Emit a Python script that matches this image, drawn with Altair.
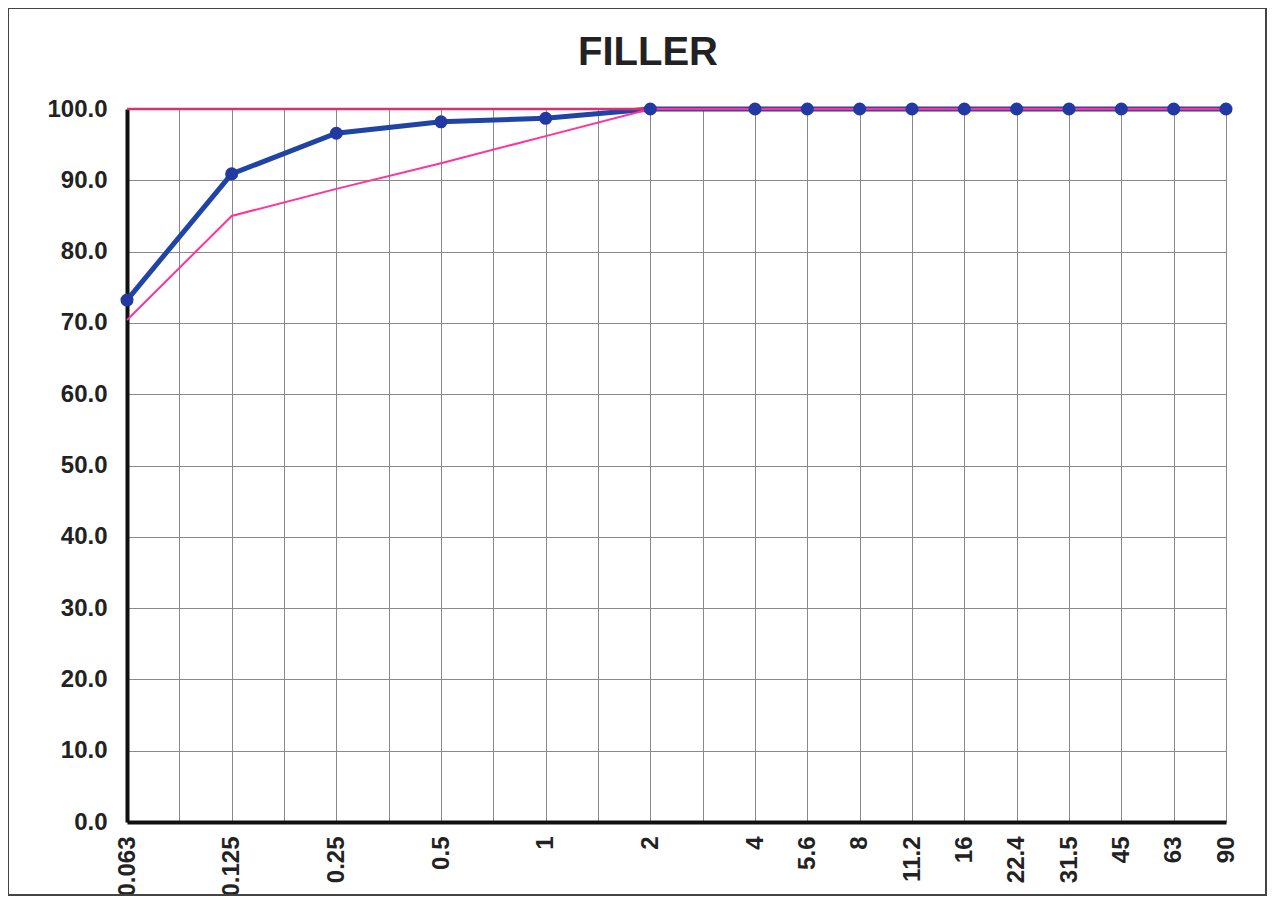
import altair as alt
import pandas as pd

# x axis slots (blank slots are unlabeled grid positions)
slots = ["0.063", " ", "0.125", "  ", "0.25", "   ", "0.5", "    ", "1", "     ",
         "2", "      ", "4", "5.6", "8", "11.2", "16", "22.4", "31.5", "45", "63", "90"]

sieve = ["0.063", "0.125", "0.25", "0.5", "1", "2", "4", "5.6", "8", "11.2",
         "16", "22.4", "31.5", "45", "63", "90"]
passing = [73.2, 90.9, 96.6, 98.2, 98.7, 100, 100, 100, 100, 100, 100, 100, 100, 100, 100, 100]
lower = [70.4, 85.0, 88.8, 92.4, 96.2, 100, 100, 100, 100, 100, 100, 100, 100, 100, 100, 100]
upper = [100, 100, 100, 100, 100, 100, 100, 100, 100, 100, 100, 100, 100, 100, 100, 100]

y_ticks = [0, 10, 20, 30, 40, 50, 60, 70, 80, 90, 100]
title_text = "FILLER"

FONT = "Liberation Sans"

df = pd.DataFrame({"sieve": sieve, "passing": passing, "lower": lower, "upper": upper})

x_enc = alt.X(
    "sieve:O",
    sort=slots,
    scale=alt.Scale(domain=slots, type="point", padding=0),
    axis=alt.Axis(
        title=None, labelAngle=-90, labelFont=FONT, labelFontSize=24,
        labelFontWeight="bold", labelColor="#222", labelPadding=14,
        ticks=False, domainColor="#111", domainWidth=4,
        grid=True, gridColor="#8a8a8a", gridWidth=1, labelOverlap=False,
    ),
)

y_scale = alt.Scale(domain=[0, 100], nice=False, zero=True)
y_axis = alt.Axis(
    title=None, values=y_ticks, format=".1f", labelFont=FONT, labelFontSize=24,
    labelFontWeight="bold", labelColor="#222", labelPadding=20, ticks=False,
    domainColor="#111", domainWidth=4, grid=True, gridColor="#8a8a8a", gridWidth=1,
)

base = alt.Chart(df)

blue_line = base.mark_line(color="#1f44a6", strokeWidth=5).encode(
    x=x_enc, y=alt.Y("passing:Q", scale=y_scale, axis=y_axis)
)
upper_line = base.mark_line(color="#d9306e", strokeWidth=2.5).encode(
    x=x_enc, y=alt.Y("upper:Q", scale=y_scale)
)
lower_line = base.mark_line(color="#ff3399", strokeWidth=2).encode(
    x=x_enc, y=alt.Y("lower:Q", scale=y_scale)
)
blue_pts = base.mark_circle(color="#2238a3", size=170, opacity=1).encode(
    x=x_enc, y=alt.Y("passing:Q", scale=y_scale)
)

one_row = alt.Data(values=[{"t": title_text}])

frame = alt.Chart(one_row).mark_rect(
    fillOpacity=0, stroke="#444", strokeWidth=2
).encode(
    x=alt.value(-119), x2=alt.value(1139), y=alt.value(-101), y2=alt.value(786)
)

title = alt.Chart(one_row).mark_text(
    font=FONT, fontSize=40, fontWeight="bold", color="#222",
    align="center", baseline="alphabetic",
).encode(
    text="t:N", x=alt.value(521), y=alt.value(-44)
)

chart = alt.layer(blue_line, upper_line, lower_line, blue_pts, frame, title).properties(
    width=1099,
    height=713,
    padding={"left": 119, "top": 101, "right": 42, "bottom": 75},
    autosize=alt.AutoSizeParams(type="none"),
).configure_view(stroke="#222", strokeWidth=2).configure(background="white")

chart.save("out.html", embed_options={"renderer": "svg", "actions": False})
